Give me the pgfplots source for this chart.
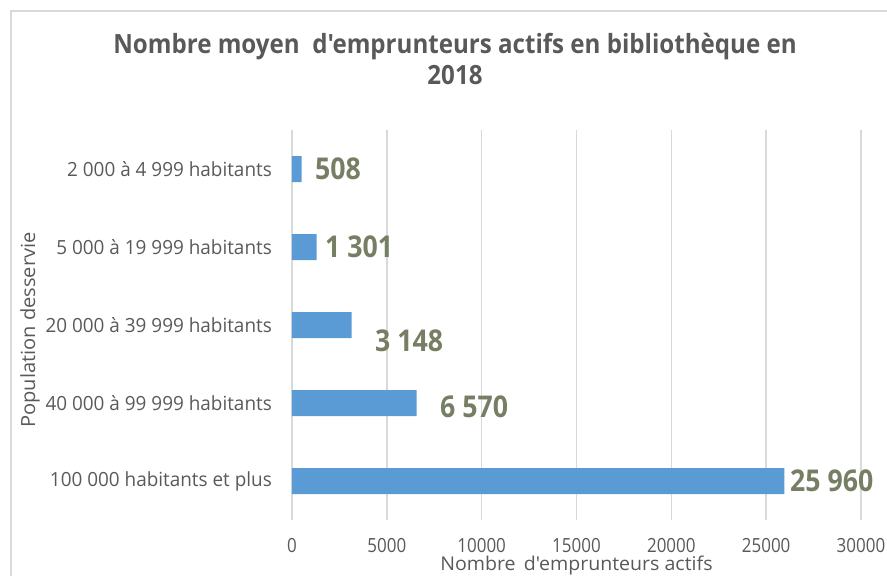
\documentclass[border=0pt]{standalone}
\usepackage{fontspec}
\usepackage{pgfplots}
\pgfplotsset{compat=1.18}
\setmainfont{Open Sans}
\newfontfamily\titlef[FakeStretch=0.91]{Open Sans}
\newfontfamily\labf[FakeStretch=0.89]{Open Sans}
\newfontfamily\tickf[FakeStretch=0.87]{Open Sans}
\newfontfamily\catf[FakeStretch=0.97]{Open Sans}
\newfontfamily\axf[FakeStretch=1.03]{Open Sans}
\definecolor{txt}{HTML}{595959}
\definecolor{gridc}{HTML}{D9D9D9}
\definecolor{barc}{HTML}{5B9BD5}
\definecolor{labc}{RGB}{118,126,100}
\begin{document}
\begin{tikzpicture}
\useasboundingbox (0,0) rectangle (887pt,-576pt);
\draw[gridc, line width=1.5pt] (11pt,-11pt) rectangle (950pt,-650pt);
\node[anchor=base, inner sep=0, text=txt, font=\titlef\bfseries\fontsize{26.5}{30}\selectfont] at (455pt,-53pt) {Nombre moyen\ \ d'emprunteurs actifs en bibliothèque en};
\node[anchor=base, inner sep=0, text=txt, font=\titlef\bfseries\fontsize{26.5}{30}\selectfont] at (455pt,-84pt) {2018};
\begin{axis}[
  at={(292pt,-520pt)}, anchor=south west,
  scale only axis, width=569pt, height=390pt,
  xmin=0, xmax=30000, ymin=-0.5, ymax=4.5,
  enlargelimits=false, clip=false,
  axis line style={draw=none},
  xmajorgrids, major grid style={gridc, line width=1.5pt},
  xtick={0,5000,10000,15000,20000,25000,30000},
  ytick={0,1,2,3,4},
  yticklabels={100 000 habitants et plus, 40 000 à 99 999 habitants, 20 000 à 39 999 habitants, 5 000 à 19 999 habitants, 2 000 à 4 999 habitants},
  major tick length=0pt,
  scaled x ticks=false,
  /pgf/number format/1000 sep={},
  /pgf/number format/assume math mode=true,
  xticklabel style={font=\tickf\fontsize{19.5}{20}\selectfont, text=txt, anchor=center, inner sep=0pt, yshift=-26pt},
  yticklabel style={font=\catf\fontsize{19.5}{20}\selectfont, text=txt, anchor=east, inner sep=0pt, xshift=-20pt},
  xlabel={Nombre\, d'emprunteurs actifs},
  ylabel={Population desservie},
  xlabel style={font=\axf\fontsize{19}{19}\selectfont, text=txt, inner sep=0pt, at={(axis description cs:0.5,-0.1165)}, anchor=center},
  ylabel style={font=\axf\fontsize{19.5}{20}\selectfont, text=txt, at={(axis description cs:-0.4605,0.487)}, anchor=center},
]
\addplot[xbar, bar width=26pt, fill=barc, draw=none] coordinates {(25960,0) (6570,1) (3148,2) (1301,3) (508,4)};
\addplot[draw=none, mark=none, nodes near coords, point meta=explicit symbolic,
  nodes near coords style={anchor=west, inner sep=0pt, font=\labf\bfseries\fontsize{30}{30}\selectfont, text=labc}]
  coordinates {(1213,4) [508] (1740,3) [1 301] (4376,1.795) [3 148] (7803,0.95) [6 570] (26256,0) [25 960]};
\end{axis}
\end{tikzpicture}
\end{document}
